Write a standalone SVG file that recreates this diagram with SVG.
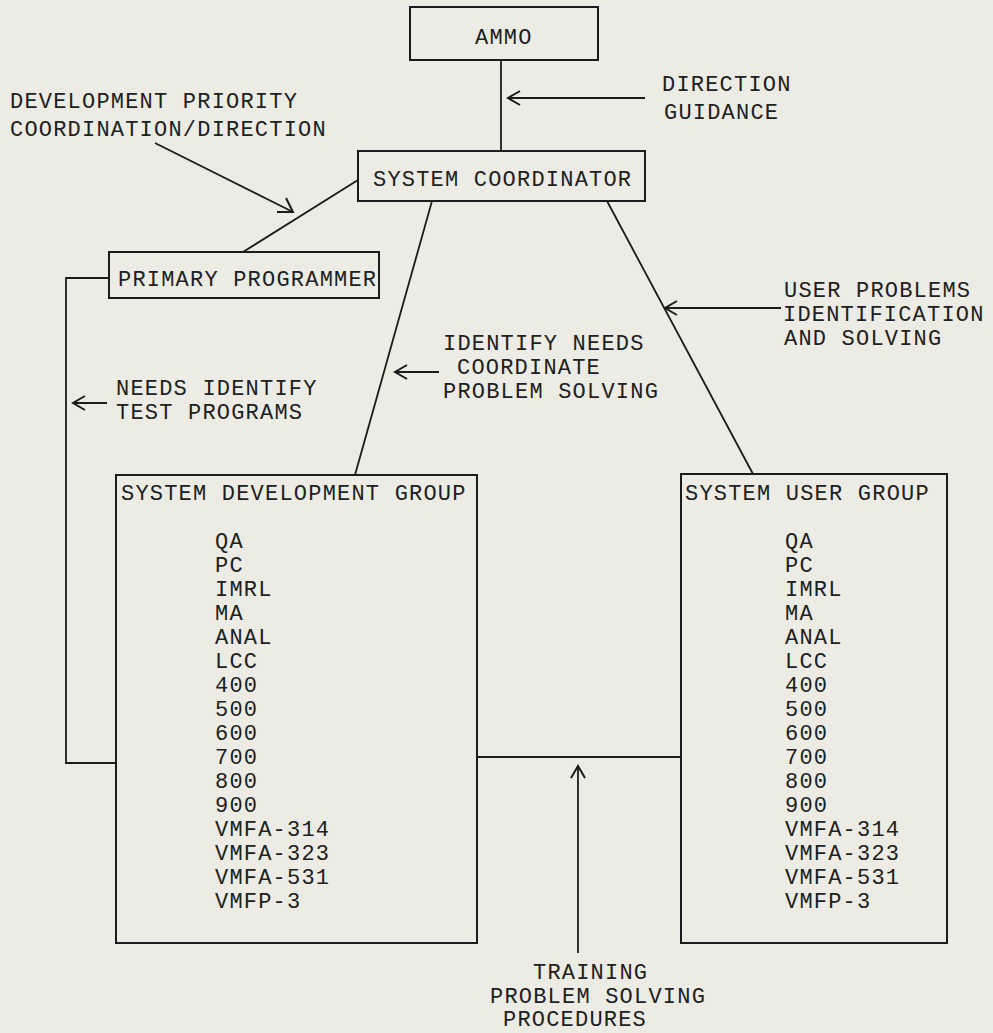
<svg xmlns="http://www.w3.org/2000/svg" width="993" height="1033" viewBox="0 0 993 1033">
<defs>
<style>
.bg{fill:#ecece5}
.box{fill:none;stroke:#1b1b1b;stroke-width:2}
.ln{fill:none;stroke:#1b1b1b;stroke-width:1.8}
.ah{fill:none;stroke:#1b1b1b;stroke-width:2}
text{font-family:"Liberation Mono","DejaVu Sans Mono",monospace;font-size:22px;letter-spacing:1.2px;fill:#202020}
</style>
</defs>
<rect class="bg" x="0" y="0" width="993" height="1033"/>
<g id="connectors">
<line class="ln" x1="501" y1="60" x2="501" y2="151"/>
<line class="ln" x1="358" y1="180" x2="243" y2="252"/>
<polyline class="ln" points="109,278 66,278 66,763 116,763"/>
<line class="ln" x1="432" y1="201" x2="355" y2="475"/>
<line class="ln" x1="607" y1="201" x2="753" y2="474"/>
<line class="ln" x1="477" y1="757" x2="681" y2="757"/>
</g>
<g id="annotations">
<g id="arrow-direction">
<line class="ln" x1="508" y1="98" x2="645" y2="98"/>
<polyline class="ah" points="520,91 508,98 520,105"/>
</g>
<g id="arrow-devpriority">
<line class="ln" x1="155" y1="143" x2="293" y2="212"/>
<polyline class="ah" points="277,212 293,212 286,198"/>
</g>
<g id="arrow-userproblems">
<line class="ln" x1="665" y1="308" x2="781" y2="308"/>
<polyline class="ah" points="677,301 665,308 677,315"/>
</g>
<g id="arrow-identify">
<line class="ln" x1="395" y1="372" x2="439" y2="372"/>
<polyline class="ah" points="407,365 395,372 407,379"/>
</g>
<g id="arrow-needs">
<line class="ln" x1="73" y1="403" x2="107" y2="403"/>
<polyline class="ah" points="85,396 73,403 85,410"/>
</g>
<g id="arrow-training">
<line class="ln" x1="578" y1="766" x2="578" y2="953"/>
<polyline class="ah" points="571,778 578,766 585,778"/>
</g>
<text x="662" y="91">DIRECTION</text>
<text x="664" y="119">GUIDANCE</text>
<text x="10" y="108">DEVELOPMENT PRIORITY</text>
<text x="10" y="136">COORDINATION/DIRECTION</text>
<text x="784" y="297">USER PROBLEMS</text>
<text x="783" y="321">IDENTIFICATION</text>
<text x="784" y="345">AND SOLVING</text>
<text x="443" y="350">IDENTIFY NEEDS</text>
<text x="457" y="374">COORDINATE</text>
<text x="443" y="398">PROBLEM SOLVING</text>
<text x="116" y="395">NEEDS IDENTIFY</text>
<text x="116" y="419">TEST PROGRAMS</text>
<text x="533" y="979">TRAINING</text>
<text x="490" y="1003">PROBLEM SOLVING</text>
<text x="503" y="1026">PROCEDURES</text>
</g>
<g id="ammo">
<rect class="box" x="410" y="7" width="188" height="53"/>
<text x="475" y="44">AMMO</text>
</g>
<g id="system-coordinator">
<rect class="box" x="358" y="151" width="287" height="50"/>
<text x="373" y="186">SYSTEM COORDINATOR</text>
</g>
<g id="primary-programmer">
<rect class="box" x="109" y="252" width="270" height="46"/>
<text x="118" y="286">PRIMARY PROGRAMMER</text>
</g>
<g id="system-development-group">
<rect class="box" x="116" y="475" width="361" height="468"/>
<text x="121" y="500">SYSTEM DEVELOPMENT GROUP</text>
<text x="215" y="548">QA</text>
<text x="215" y="572">PC</text>
<text x="215" y="596">IMRL</text>
<text x="215" y="620">MA</text>
<text x="215" y="644">ANAL</text>
<text x="215" y="668">LCC</text>
<text x="215" y="692">400</text>
<text x="215" y="716">500</text>
<text x="215" y="740">600</text>
<text x="215" y="764">700</text>
<text x="215" y="788">800</text>
<text x="215" y="812">900</text>
<text x="215" y="836">VMFA-314</text>
<text x="215" y="860">VMFA-323</text>
<text x="215" y="884">VMFA-531</text>
<text x="215" y="908">VMFP-3</text>
</g>
<g id="system-user-group">
<rect class="box" x="681" y="474" width="266" height="469"/>
<text x="685" y="500">SYSTEM USER GROUP</text>
<text x="785" y="548">QA</text>
<text x="785" y="572">PC</text>
<text x="785" y="596">IMRL</text>
<text x="785" y="620">MA</text>
<text x="785" y="644">ANAL</text>
<text x="785" y="668">LCC</text>
<text x="785" y="692">400</text>
<text x="785" y="716">500</text>
<text x="785" y="740">600</text>
<text x="785" y="764">700</text>
<text x="785" y="788">800</text>
<text x="785" y="812">900</text>
<text x="785" y="836">VMFA-314</text>
<text x="785" y="860">VMFA-323</text>
<text x="785" y="884">VMFA-531</text>
<text x="785" y="908">VMFP-3</text>
</g>
</svg>
